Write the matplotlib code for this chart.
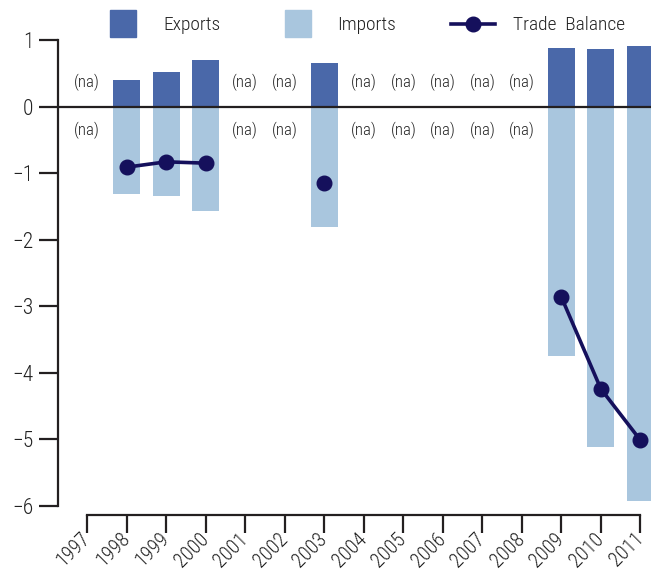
import numpy as np
import matplotlib
matplotlib.use("Agg")
import matplotlib.pyplot as plt
from matplotlib import font_manager as fm
from matplotlib.patches import Rectangle
from matplotlib.lines import Line2D

# choose a condensed font if one is installed
_fonts = fm.fontManager.ttflist
_names = {f.name for f in _fonts}
scale = 1.0
if 'Roboto Condensed' in _names:
    plt.rcParams['font.family'] = ['Roboto Condensed', 'DejaVu Sans']
    plt.rcParams['font.weight'] = 'light'
elif 'Liberation Sans Narrow' in _names:
    plt.rcParams['font.family'] = ['Liberation Sans Narrow', 'DejaVu Sans']
else:
    plt.rcParams['font.family'] = ['Roboto', 'DejaVu Sans']
    scale = 0.85

years = ['1997', '1998', '1999', '2000', '2001', '2002', '2003', '2004',
         '2005', '2006', '2007', '2008', '2009', '2010', '2011']
nan = np.nan
exports = [nan, 0.40, 0.52, 0.70, nan, nan, 0.65, nan, nan, nan, nan, nan, 0.88, 0.86, 0.91]
imports = [nan, -1.32, -1.35, -1.57, nan, nan, -1.81, nan, nan, nan, nan, nan, -3.75, -5.11, -5.92]
balance = [nan, -0.91, -0.83, -0.85, nan, nan, -1.15, nan, nan, nan, nan, nan, -2.86, -4.24, -5.01]
yticks = [1, 0, -1, -2, -3, -4, -5, -6]
ytick_labels = ['1', '0', '\u22121', '\u22122', '\u22123', '\u22124', '\u22125', '\u22126']
legend_labels = ['Exports', 'Imports', 'Trade  Balance']
na_label = '(na)'

c_exp = '#4A68A9'
c_imp = '#A9C6DE'
c_bal = '#15105C'
c_axis = '#231F20'
c_text = '#222222'

W, H = 651, 569
fig = plt.figure(figsize=(W / 100, H / 100), dpi=100)
ax = fig.add_axes([58.3 / W, 1 - 506 / H, 1 - 58.3 / W, (506 - 40) / H])

x = np.arange(len(years))
ax.bar(x, exports, width=0.68, color=c_exp, zorder=2)
ax.bar(x, imports, width=0.68, color=c_imp, zorder=2)
ax.axhline(0, color=c_axis, lw=1.6, zorder=3)
ax.plot(x, balance, color=c_bal, lw=2.6, marker='o', markersize=10.5, zorder=4)

for i, v in enumerate(exports):
    if np.isnan(v):
        ax.text(i, 0.36, na_label, ha='center', va='center', fontsize=12 * scale, color=c_text)
        ax.text(i, -0.36, na_label, ha='center', va='center', fontsize=12 * scale, color=c_text)

ax.set_xlim(-0.734, 14.27)
ax.set_ylim(-6, 1)
ax.set_yticks(yticks)
ax.set_yticklabels(ytick_labels)
ax.set_xticks(x)
ax.set_xticklabels(years)

for s in ['top', 'right']:
    ax.spines[s].set_visible(False)
ax.spines['left'].set_bounds(-6, 1)
ax.spines['bottom'].set_bounds(0, 14)
ax.spines['bottom'].set_position(('outward', 6.5))
for s in ['left', 'bottom']:
    ax.spines[s].set_color(c_axis)
    ax.spines[s].set_linewidth(1.6)
ax.tick_params(axis='y', length=13.7, width=1.6, color=c_axis, pad=4.3, labelsize=15.5 * scale, labelcolor=c_text)
ax.tick_params(axis='x', length=13, width=1.6, color=c_axis, pad=2.0, labelsize=14.5 * scale, labelcolor=c_text)
plt.setp(ax.get_xticklabels(), rotation=45, ha='right', va='center', rotation_mode='anchor')

# legend
def fx(px):
    return px / W

def fy(py):
    return 1 - py / H

fig.patches.append(Rectangle((fx(110), fy(37)), 26 / W, 27 / H, transform=fig.transFigure,
                             color=c_exp, figure=fig))
fig.patches.append(Rectangle((fx(285), fy(37)), 26 / W, 27 / H, transform=fig.transFigure,
                             color=c_imp, figure=fig))
fig.lines.append(Line2D([fx(451), fx(495)], [fy(24), fy(24)], transform=fig.transFigure,
                        color=c_bal, lw=2.6, figure=fig))
fig.lines.append(Line2D([fx(473)], [fy(24)], transform=fig.transFigure, color=c_bal,
                        marker='o', markersize=10.5, figure=fig))
fig.text(fx(163), fy(24.5), legend_labels[0], ha='left', va='center', fontsize=14 * scale, color=c_text)
fig.text(fx(337), fy(24.5), legend_labels[1], ha='left', va='center', fontsize=14 * scale, color=c_text)
fig.text(fx(513), fy(24.5), legend_labels[2], ha='left', va='center', fontsize=14 * scale, color=c_text)

fig.savefig('out.png', dpi=100)
